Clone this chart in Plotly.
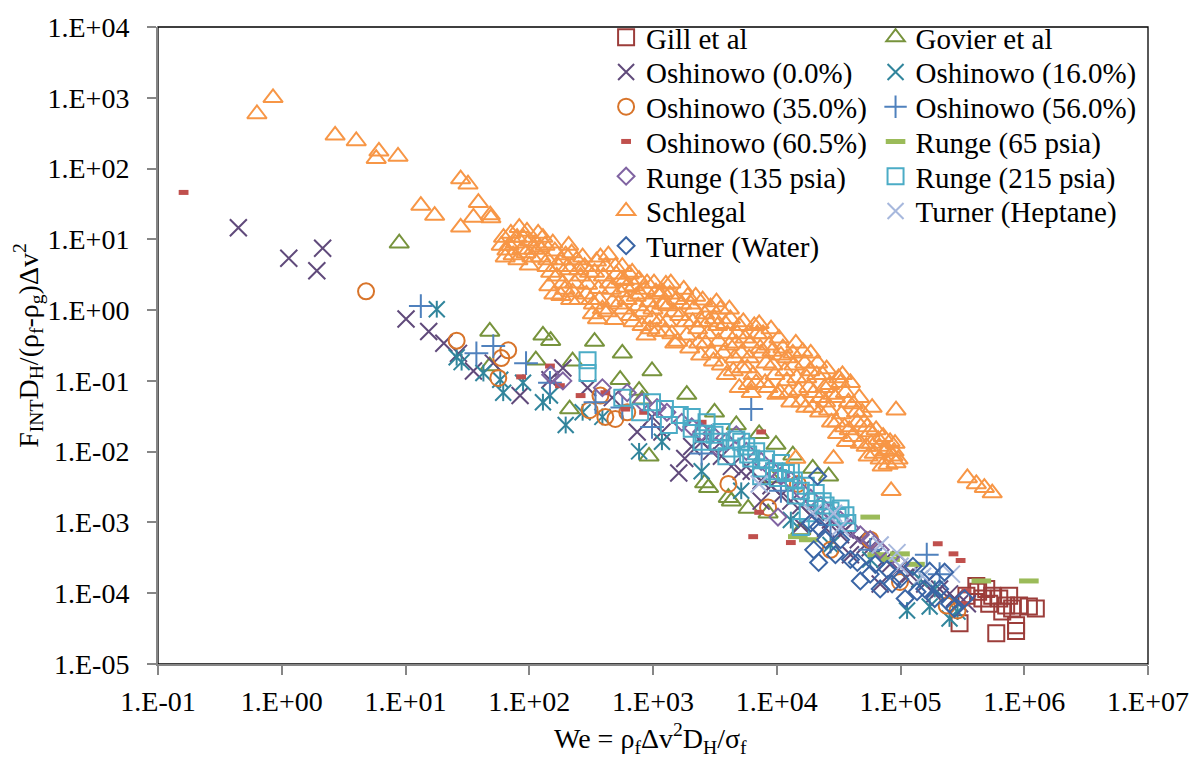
import plotly.graph_objects as go

# ---------------------------------------------------------------------------
# Interfacial force group F_INT*D_H/((rho_f-rho_g)*dv^2) versus Weber number
# ---------------------------------------------------------------------------

gill_we = [300000, 594000, 859000, 859000, 410000, 493000, 551000, 628000, 714000, 798000,
           908000, 1090000, 1240000, 521000, 664000, 459000, 424000, 341000, 755000]
gill_f = [3.77e-5, 2.73e-5, 2.92e-5, 3.53e-5, 1.27e-4, 1.15e-4, 9.2e-5, 8.4e-5, 6.7e-5, 6.1e-5,
          6.7e-5, 6.5e-5, 6.1e-5, 7.1e-5, 5.5e-5, 8.4e-5, 1.05e-4, 9.2e-5, 9.2e-5]

govier_we = [8.9, 48, 129, 149, 337, 565, 113, 224, 982, 543, 772, 1875, 3141, 4710, 7210,
             9860, 13490, 19530, 26240, 929, 2614, 4064, 5875, 8510, 8990, 212, 816, 48,
             2812, 4300, 15640]
govier_f = [8.8, 0.50, 0.44, 0.37, 0.36, 0.245, 0.196, 0.19, 0.138, 0.104, 0.073, 0.064, 0.036,
            0.0238, 0.0179, 0.0126, 0.0089, 0.0058, 0.0045, 0.0086, 0.0036, 0.00224, 0.00158,
            0.00135, 0.00425, 0.040, 0.055, 0.162, 0.0031, 0.0020, 7.8e-4]

osh00_we = [0.446, 1.14, 2.14, 1.92, 10.1, 15.4, 20.4, 26.8, 35.4, 51.2, 84.3, 147, 187, 296,
            469, 745, 982, 1615, 1806, 2472, 3574, 5164, 7480, 10810, 15640, 20650, 27200,
            35900, 45600, 56900, 75100, 95500, 119000, 157000, 207000, 273000, 347000, 39400,
            68500, 15640, 7480,
            1181, 2055, 2972, 4300, 6220, 8990, 13000, 18820, 24800, 32750, 51900, 62500,
            82400, 109000, 143000, 189000, 249000, 300000]
osh00_f = [14.6, 5.4, 7.5, 3.6, 0.75, 0.50, 0.34, 0.245, 0.138, 0.178, 0.062, 0.104, 0.152,
           0.080, 0.058, 0.019, 0.031, 0.0050, 0.0080, 0.0138, 0.0086, 0.0053, 0.0039, 0.0024,
           0.00174, 0.00139, 0.00108, 7.8e-4, 5.7e-4, 4.4e-4, 3.0e-4, 2.18e-4, 1.86e-4, 1.35e-4,
           1.15e-4, 8.4e-5, 7.1e-5, 3.5e-4, 1.35e-4, 9.2e-4, 0.0020,
           0.019, 0.0118, 0.0101, 0.0062, 0.0053, 0.0033, 0.0020, 0.00126, 8.3e-4, 6.7e-4,
           4.8e-4, 3.5e-4, 2.56e-4, 1.69e-4, 1.58e-4, 9.8e-5, 9.8e-5, 7.1e-5]

osh16_we = [17.9, 25.9, 28.4, 42.6, 58.3, 61.6, 89.1, 129, 147, 197, 270, 390, 772, 1181,
            2472, 5164, 13000, 27200, 56900, 113000, 172000, 189000, 249000, 289000, 143000]
osh16_f = [1.03, 0.216, 0.184, 0.129, 0.104, 0.068, 0.094, 0.050, 0.062, 0.0238, 0.036, 0.031,
           0.0101, 0.0138, 0.0053, 0.0028, 0.00108, 4.8e-4, 3.0e-4, 5.7e-5, 6.5e-5, 1.15e-4,
           4.4e-5, 5.5e-5, 1.58e-4]

osh35_we = [4.8, 25.9, 67.6, 59.4, 56.2, 376, 307, 412, 496, 619, 4064, 8510, 14800, 27200,
            56900, 99100, 236000, 289000]
osh35_f = [1.84, 0.37, 0.27, 0.21, 0.110, 0.062, 0.0385, 0.031, 0.029, 0.036, 0.0035, 0.00163,
           0.0035, 4.1e-4, 5.7e-4, 1.44e-4, 6.7e-5, 5.7e-5]

osh56_we = [13.3, 37.4, 51.2, 94.2, 147, 343, 565, 982, 2472, 6220, 10810, 27200, 56900,
            163000, 207000]
osh56_f = [1.14, 0.245, 0.31, 0.178, 0.094, 0.050, 0.042, 0.0224, 0.0094, 0.040, 0.0028,
           9.2e-4, 4.1e-4, 3.5e-4, 1.86e-4]

osh605_we = [0.161, 85.9, 147, 177, 260, 412, 597, 847, 2472, 7480, 7210, 6450, 13000, 200000,
             268000, 306000, 341000, 329000]
osh605_f = [46, 0.114, 0.162, 0.0855, 0.062, 0.068, 0.040, 0.036, 0.026, 0.019, 0.00139, 6.3e-4,
            5.2e-4, 5.0e-4, 3.6e-4, 2.9e-4, 1.08e-4, 7.1e-5]

runge65_we = [14800, 18140, 56900, 64800, 82400, 99100, 131000, 450000, 1090000]
runge65_f = [6.3e-4, 5.7e-4, 0.00119, 3.5e-4, 3.0e-4, 3.6e-4, 2.56e-4, 1.49e-4, 1.49e-4]

runge135_we = [149, 187, 390, 619, 1077, 1708, 2472, 4710, 7480, 10810, 15640, 22640, 32750,
               47370, 68500, 10230, 99100,
               816, 1295, 2055, 2972, 3918, 5670, 8990, 13000, 18820, 27200, 39400, 56900, 3258]
runge135_f = [0.122, 0.100, 0.080, 0.068, 0.042, 0.026, 0.019, 0.0173, 0.0073, 0.0045, 0.0028,
              0.00174, 0.00108, 6.7e-4, 4.1e-4, 0.00119, 2.56e-4,
              0.050, 0.036, 0.0224, 0.0179, 0.0138, 0.0101, 0.0057, 0.0039, 0.0022, 0.00139,
              8.3e-4, 5.7e-4, 0.0118]

runge215_we = [296, 296, 565, 787, 982, 1248, 1343, 1645, 2055, 2566, 3141, 3381, 4300, 5164,
               5875, 6220, 7480, 9500, 10230, 11860, 13750, 15640, 17800, 20650, 24800, 31000,
               37200, 15640,
               2055, 2710, 3574, 4710, 5670, 6820, 8200, 10810, 13000, 17150, 20650, 23500,
               27200, 32750, 35900, 2472, 3918, 7480, 14260]
runge215_f = [0.196, 0.129, 0.058, 0.036, 0.050, 0.040, 0.0238, 0.033, 0.0210, 0.0179, 0.0173,
              0.0138, 0.0111, 0.0138, 0.0091, 0.0080, 0.0058, 0.0053, 0.00425, 0.0050, 0.0039,
              0.0028, 0.00135, 0.0020, 0.00174, 0.00119, 9.8e-4, 8.6e-4,
              0.031, 0.026, 0.019, 0.0148, 0.0118, 0.0101, 0.0078, 0.0069, 0.0053, 0.0033,
              0.0026, 0.0020, 0.00148, 0.00158, 0.00126, 0.0138, 0.0086, 0.0045, 0.0024]

schlegal_we = [
    0.63, 0.85, 2.7, 4.0, 6.1, 5.8, 8.7, 13.3, 17.2, 27.9, 32, 27.9, 38.8, 35.4, 48.4, 49,
    62, 66, 71, 77, 83, 89, 94, 101, 109, 118, 124, 64, 81, 100,
    68.8, 74.1, 79.8, 87.5, 95.9, 105, 113, 122, 129, 59.4,
    134, 141, 149, 161, 173, 187, 197, 212, 224, 242, 260, 144, 208, 251, 180,
    139, 155, 167, 180, 194, 205, 220, 233, 251, 270, 158, 216,
    280, 296, 313, 337, 362, 390, 412, 444, 469, 505, 543, 324, 487, 376, 565,
    290, 307, 330, 349, 369, 397, 428, 461, 496, 524, 554, 356, 436,
    586, 619, 655, 705, 759, 816, 863, 929, 982, 1077, 1138, 679, 1019, 787,
    574, 608, 643, 692, 731, 772, 832, 895, 946, 1000, 1057, 1117, 1181, 879,
    1225, 1295, 1368, 1473, 1585, 1708, 1840, 1982, 2133, 2296, 2426, 1420, 1909, 1271,
    1203, 1248, 1319, 1393, 1500, 1556, 1645, 1772, 1875, 2018, 2094, 2213, 2338, 2472,
    2614, 2761, 2972, 3141, 3381, 3574, 3847, 4141, 4457, 4798, 5164, 4977, 3258, 4141,
    2518, 2661, 2812, 2917, 3083, 3321, 3509, 3708, 3993, 4219, 4543, 4710, 4977, 5262, 3918,
    5560, 5984, 6450, 6950, 7480, 8050, 8670, 9330, 10040, 10810, 7210, 6220, 8990,
    5370, 5780, 6110, 6580, 6820, 7350, 7760, 8200, 8510, 9160, 9680, 10420, 10610, 5890,
    11640, 12530, 13490, 14520, 15640, 16840, 18140, 19530, 21030, 22640, 14260, 18820,
    11220, 12080, 13000, 13750, 15070, 16230, 17150, 18490, 19900, 21400, 22220, 12080, 17470,
    24380, 25300, 26240, 28250, 30420, 32750, 35260, 37960, 40870, 44000, 47370, 28770,
    36560, 33960,
    23500, 24800, 26700, 27700, 29800, 31600, 33300, 35900, 38600, 41600, 44800, 46400,
    39400, 31000,
    50900, 52800, 56900, 61300, 66000, 68500, 75100, 79400, 87100, 92000, 92000, 90300,
    84000, 14260, 59000,
    49100, 53800, 57900, 63500, 67300, 72400, 78000, 82400, 88700, 95500, 54800, 71100,
    347000, 410000, 476000, 551000]
schlegal_f = [
    590, 1000, 295, 245, 175, 138, 148, 30, 21.7, 71, 60, 14.8, 33, 20.4, 22, 20,
    10.6, 7.0, 12.1, 8.8, 14.6, 10.6, 6.4, 9.4, 7.2, 12.1, 5.6, 5.6, 5.1, 4.3,
    8.2, 6.0, 10.6, 7.2, 12.9, 5.6, 8.8, 7.7, 10.6, 8.2,
    8.2, 5.1, 3.4, 6.8, 4.1, 2.4, 6.0, 3.7, 1.8, 5.1, 3.0, 2.2, 8.2, 1.4, 1.6,
    4.1, 8.8, 3.0, 5.1, 1.96, 4.1, 6.4, 2.4, 3.7, 5.6, 1.67, 1.4,
    4.1, 2.3, 1.4, 3.4, 2.0, 1.03, 4.1, 2.4, 1.3, 3.2, 1.8, 0.88, 0.73, 5.6, 4.1,
    1.67, 3.4, 1.21, 4.9, 1.4, 3.0, 0.94, 1.96, 4.1, 1.21, 2.7, 0.75, 6.0,
    2.6, 1.4, 0.83, 2.2, 1.14, 0.60, 1.96, 1.3, 0.75, 0.50, 1.67, 3.4, 2.4, 1.67,
    1.03, 2.08, 3.2, 0.68, 1.56, 2.7, 0.94, 2.4, 0.54, 1.03, 1.8, 0.68, 1.21, 0.44,
    1.21, 0.68, 1.67, 0.94, 0.36, 1.21, 0.68, 0.29, 1.03, 0.54, 0.23, 0.46, 1.56, 2.3,
    1.8, 0.50, 1.14, 2.4, 0.34, 1.4, 0.83, 1.96, 0.44, 1.21, 0.68, 1.56, 0.34, 0.68,
    0.88, 0.46, 0.245, 0.75, 0.36, 0.167, 0.64, 0.32, 0.138, 0.46, 0.245, 0.080, 1.3, 1.03,
    1.38, 0.34, 0.68, 1.10, 0.19, 0.60, 1.03, 0.245, 0.46, 0.75, 0.21, 0.34, 0.60, 0.152, 0.122,
    0.40, 0.21, 0.122, 0.46, 0.245, 0.094, 0.32, 0.167, 0.064, 0.23, 0.64, 0.068, 0.54,
    0.68, 0.152, 0.34, 0.60, 0.094, 0.29, 0.46, 0.178, 0.080, 0.26, 0.122, 0.40, 0.068, 0.088,
    0.138, 0.068, 0.245, 0.110, 0.050, 0.178, 0.080, 0.042, 0.122, 0.058, 0.34, 0.245,
    0.29, 0.100, 0.050, 0.167, 0.073, 0.26, 0.042, 0.138, 0.068, 0.178, 0.036, 0.21, 0.110,
    0.080, 0.147, 0.0385, 0.064, 0.026, 0.094, 0.0224, 0.050, 0.0163, 0.036, 0.0130, 0.0080,
    0.0138, 0.122,
    0.122, 0.050, 0.088, 0.026, 0.058, 0.110, 0.034, 0.068, 0.0203, 0.047, 0.026, 0.058,
    0.094, 0.0179,
    0.026, 0.0118, 0.019, 0.0094, 0.0148, 0.0078, 0.0101, 0.0066, 0.0086, 0.0069, 0.0385,
    0.0130, 0.0028, 0.0080, 0.042,
    0.036, 0.0224, 0.0130, 0.0203, 0.0118, 0.0163, 0.0107, 0.0138, 0.0101, 0.0078, 0.0086,
    0.0062,
    0.00425, 0.0035, 0.0031, 0.0026]

turner_hep_we = [7210, 19530, 28770, 32750, 93700, 99100, 151000, 258000, 68500]
turner_hep_f = [0.0035, 0.00135, 0.00135, 8.6e-4, 3.75e-4, 2.40e-4, 1.74e-4, 1.86e-4, 4.8e-4]

turner_wat_we = [21400, 18820, 21800, 19900, 21800, 32750, 44800, 47370, 62500, 78000, 85500,
                 126000, 172000, 227000, 136000, 189000, 249000,
                 24800, 29800, 39400, 56900, 68500, 99100, 109000, 157000, 207000, 273000,
                 329000]
turner_wat_f = [0.0045, 9.8e-4, 8.6e-4, 4.1e-4, 2.72e-4, 5.7e-4, 2.72e-4, 1.49e-4, 2.56e-4,
                2.18e-4, 1.35e-4, 2.40e-4, 2.05e-4, 1.98e-4, 1.05e-4, 8.4e-5, 7.1e-5,
                5.7e-4, 3.5e-4, 3.0e-4, 1.86e-4, 1.15e-4, 1.58e-4, 8.4e-5, 1.15e-4, 1.15e-4,
                6.1e-5, 8.4e-5]

tick_vals_x = [1e-1, 1e0, 1e1, 1e2, 1e3, 1e4, 1e5, 1e6, 1e7]
tick_text_x = ["1.E-01", "1.E+00", "1.E+01", "1.E+02", "1.E+03", "1.E+04", "1.E+05",
               "1.E+06", "1.E+07"]
tick_vals_y = [1e-5, 1e-4, 1e-3, 1e-2, 1e-1, 1e0, 1e1, 1e2, 1e3, 1e4]
tick_text_y = ["1.E-05", "1.E-04", "1.E-03", "1.E-02", "1.E-01", "1.E+00", "1.E+01",
               "1.E+02", "1.E+03", "1.E+04"]

FONT = "Liberation Serif, Times New Roman, serif"

# name, x, y, symbol, size, colour, line width
series = [
    ("Gill et al", gill_we, gill_f, "square-open", 16, "#9c3d3a", 2),
    ("Govier et al", govier_we, govier_f, "triangle-up-open", 17, "#77933c", 2),
    ("Oshinowo (0.0%)", osh00_we, osh00_f, "x-thin-open", 17, "#604a7b", 2),
    ("Oshinowo (16.0%)", osh16_we, osh16_f, "x-thin-open", 16, "#31859c", 2),
    ("Oshinowo (35.0%)", osh35_we, osh35_f, "circle-open", 16, "#d8742a", 2),
    ("Oshinowo (56.0%)", osh56_we, osh56_f, "cross-thin-open", 17, "#4f81bd", 2),
    ("Oshinowo (60.5%)", osh605_we, osh605_f, "line-ew-open", 7, "#c0504d", 5),
    ("Runge (65 psia)", runge65_we, runge65_f, "line-ew-open", 14, "#9bbb59", 5),
    ("Runge (135 psia)", runge135_we, runge135_f, "diamond-open", 13, "#8064a2", 2),
    ("Runge (215 psia)", runge215_we, runge215_f, "square-open", 16, "#4bacc6", 2),
    ("Schlegal", schlegal_we, schlegal_f, "triangle-up-open", 17, "#f79646", 2),
    ("Turner (Heptane)", turner_hep_we, turner_hep_f, "x-thin-open", 17, "#a7b8dd", 2),
    ("Turner (Water)", turner_wat_we, turner_wat_f, "diamond-open", 13, "#3a65a5", 2),
]

fig = go.Figure()
for i, (name, xs, ys, sym, size, color, lw) in enumerate(series):
    key = "legend" if i == 0 else f"legend{i + 1}"
    fig.add_trace(go.Scatter(
        x=xs, y=ys, mode="markers", name=name, legend=key, showlegend=True,
        marker=dict(symbol=sym, size=size, color=color, line=dict(color=color, width=lw)),
    ))
    if name == "Oshinowo (16.0%)":
        # vertical bar completing the six-armed asterisk marker
        fig.add_trace(go.Scatter(
            x=xs, y=ys, mode="markers", showlegend=False, legend=key,
            marker=dict(symbol="line-ns-open", size=12, color=color,
                        line=dict(color=color, width=lw)),
        ))

# plot-area geometry (pixels)
W, H = 1201, 761
ML, MR, MT, MB = 158, 51, 17, 97
PW, PH = W - ML - MR, H - MT - MB

# legend laid out in two columns, row-major
col_px = [607, 877]
row0_px, row_gap = 27.5, 35.3
legends = {}
for i in range(len(series)):
    key = "legend" if i == 0 else f"legend{i + 1}"
    r, c = divmod(i, 2)
    legends[key] = dict(
        x=(col_px[c] - ML) / PW, y=1 - (row0_px + row_gap * r - MT) / PH,
        xanchor="left", yanchor="middle", orientation="v",
        bgcolor="rgba(0,0,0,0)", borderwidth=0,
        font=dict(family=FONT, size=29, color="black"),
    )

axis_common = dict(
    type="log", showgrid=False, zeroline=False,
    showline=True, linecolor="#868686", linewidth=2,
    ticks="outside", ticklen=9, tickwidth=2, tickcolor="#868686",
    tickfont=dict(family=FONT, size=28, color="black"),
)

fig.update_layout(
    width=W, height=H,
    showlegend=True,
    font=dict(family=FONT, size=28, color="black"),
    margin=dict(l=ML, r=MR, t=MT, b=MB, pad=0),
    paper_bgcolor="white", plot_bgcolor="white",
    xaxis=dict(range=[-1, 7], tickvals=tick_vals_x, ticktext=tick_text_x,
               ticklabelstandoff=2, **axis_common),
    yaxis=dict(range=[-5, 4], tickvals=tick_vals_y, ticktext=tick_text_y,
               ticklabelstandoff=12, **axis_common),
    shapes=[dict(type="rect", xref="paper", yref="paper", x0=0, x1=1, y0=0, y1=1,
                 line=dict(color="black", width=1.3), layer="below")],
    annotations=[
        dict(text="We = ρ<sub>f</sub>Δv<sup>2</sup>D<sub>H</sub>/σ<sub>f</sub>",
             xref="paper", yref="paper", x=0.497, y=-(740 - MT - PH) / PH,
             xanchor="center", yanchor="middle", showarrow=False,
             font=dict(family=FONT, size=28, color="black")),
        dict(text="F<sub>INT</sub>D<sub>H</sub>/(ρ<sub>f</sub>-ρ<sub>g</sub>)Δv<sup>2</sup>",
             xref="paper", yref="paper", x=(28 - ML) / PW, y=0.5, textangle=-90,
             xanchor="center", yanchor="middle", showarrow=False,
             font=dict(family=FONT, size=28, color="black")),
    ],
    **legends,
)

fig.write_html("out.html")
